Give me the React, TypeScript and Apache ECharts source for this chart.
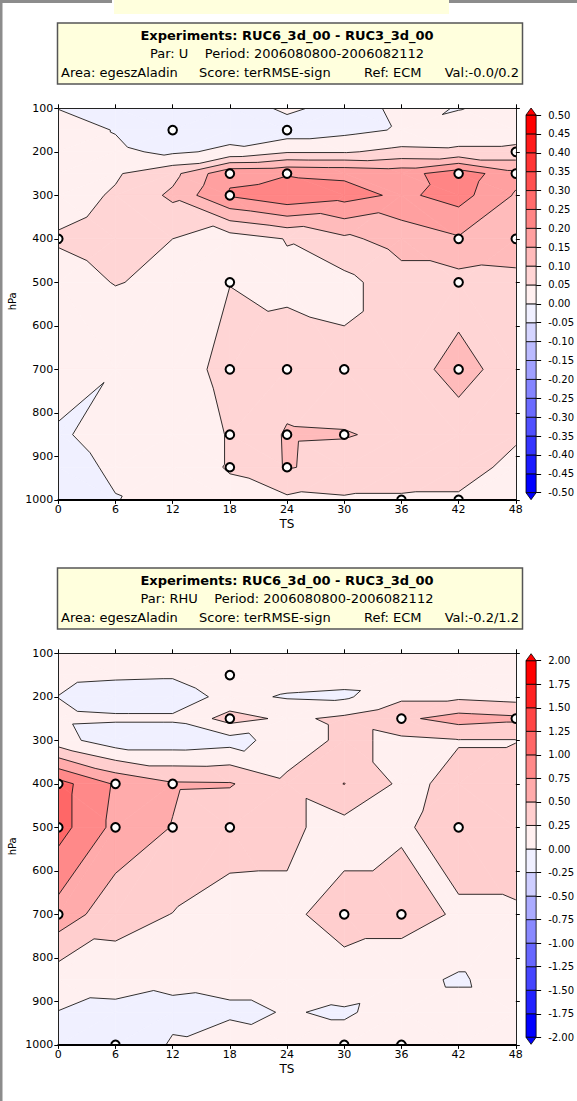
import React, { useEffect, useRef } from "react";
import * as echarts from "echarts";

// Forecast steps (hours) and pressure levels (hPa) of the verification grid
const STEPS = [0, 6, 12, 18, 24, 30, 36, 42, 48];
const LEVELS = [100, 150, 200, 250, 300, 400, 500, 700, 850, 925, 1000];

// RMSE difference, wind U (rows follow LEVELS, columns follow STEPS)
const U_DIFF = [
  [-0.001, -0.02, -0.03, -0.036, 0.012, -0.024, 0.012, -0.002, 0.015],
  [0.02, -0.002, -0.03, -0.02, -0.03, -0.015, 0.005, 0.02, 0.03],
  [0.02, 0.008, -0.008, 0.01, 0.045, 0.045, 0.064, 0.06, 0.06],
  [0.03, 0.045, 0.085, 0.19, 0.195, 0.19, 0.18, 0.23, 0.165],
  [0.03, 0.055, 0.11, 0.205, 0.24, 0.22, 0.19, 0.22, 0.145],
  [0.055, 0.07, 0.05, 0.025, 0.052, 0.09, 0.12, 0.145, 0.13],
  [0.03, 0.052, 0.04, 0.049, 0.04, 0.035, 0.08, 0.08, 0.085],
  [0.04, 0.0025, 0.02, 0.07, 0.075, 0.065, 0.08, 0.115, 0.08],
  [-0.01, 0.03, 0.001, 0.055, 0.105, 0.103, 0.09, 0.08, 0.055],
  [-0.02, 0.008, 0.015, 0.055, 0.104, 0.08, 0.07, 0.065, 0.04],
  [-0.008, -0.002, 0.022, 0.03, 0.04, 0.045, 0.045, 0.045, 0.04],
];

// RMSE difference, relative humidity
const RHU_DIFF = [
  [0.08, 0.1, 0.1, 0.12, 0.1, 0.1, 0.08, 0.1, 0.1],
  [0.05, 0.03, 0.02, 0.15, 0.1, 0.08, 0.1, 0.1, 0.1],
  [-0.003, -0.1, -0.1, 0.06, -0.02, -0.04, 0.2, 0.2, 0.15],
  [0.05, 0.03, 0.03, 0.35, 0.2, 0.3, 0.45, 0.6, 0.55],
  [0.1, -0.15, -0.15, -0.1, 0.12, 0.3, 0.2, 0.24, 0.24],
  [1.1, 0.72, 0.53, 0.52, 0.3, 0.505, 0.2, 0.3, 0.4],
  [1.1, 0.68, 0.49, 0.3, 0.3, 0.15, 0.22, 0.35, 0.4],
  [0.65, 0.34, 0.245, 0.205, 0.2, 0.35, 0.35, 0.22, 0.22],
  [0.1, 0.12, 0.04, 0.1, 0.1, 0.15, 0.08, -0.03, 0.12],
  [-0.005, -0.08, -0.043, -0.06, 0.015, -0.03, 0.1, 0.1, 0.1],
  [-0.1, -0.15, 0.02, 0.2, 0.1, 0.1, 0.27, 0.1, 0.1],
];

// Grid points where the difference is significant: [step, level]
const U_SIG = [
  [12, 150], [24, 150], [48, 200], [18, 250], [24, 250], [42, 250], [48, 250],
  [18, 300], [0, 400], [42, 400], [48, 400], [18, 500], [42, 500],
  [18, 700], [24, 700], [30, 700], [42, 700], [18, 850], [24, 850], [30, 850],
  [18, 925], [24, 925], [36, 1000], [42, 1000],
];
const RHU_SIG = [
  [18, 150], [18, 250], [36, 250], [48, 250], [0, 400], [6, 400], [12, 400],
  [0, 500], [6, 500], [12, 500], [18, 500], [42, 500], [0, 700], [30, 700],
  [36, 700], [6, 1000], [30, 1000], [36, 1000],
];

// Contour levels (colour-bar tick labels)
const U_BOUNDS = [
  -0.5, -0.45, -0.4, -0.35, -0.3, -0.25, -0.2, -0.15, -0.1, -0.05, 0,
  0.05, 0.1, 0.15, 0.2, 0.25, 0.3, 0.35, 0.4, 0.45, 0.5,
];
const RHU_BOUNDS = [
  -2, -1.75, -1.5, -1.25, -1, -0.75, -0.5, -0.25, 0,
  0.25, 0.5, 0.75, 1, 1.25, 1.5, 1.75, 2,
];

const U_COLORS = [
  "rgb(0,0,255)", "rgb(27,27,255)", "rgb(53,53,255)", "rgb(80,80,255)", "rgb(107,107,255)",
  "rgb(133,133,255)", "rgb(160,160,255)", "rgb(187,187,255)", "rgb(213,213,255)", "rgb(240,240,255)",
  "rgb(255,240,240)", "rgb(255,213,213)", "rgb(255,187,187)", "rgb(255,160,160)", "rgb(255,133,133)",
  "rgb(255,107,107)", "rgb(255,80,80)", "rgb(255,53,53)", "rgb(255,27,27)", "rgb(255,0,0)",
];
const RHU_COLORS = [
  "rgb(0,0,255)", "rgb(34,34,255)", "rgb(69,69,255)", "rgb(103,103,255)",
  "rgb(137,137,255)", "rgb(171,171,255)", "rgb(206,206,255)", "rgb(240,240,255)",
  "rgb(255,240,240)", "rgb(255,206,206)", "rgb(255,171,171)", "rgb(255,137,137)",
  "rgb(255,103,103)", "rgb(255,69,69)", "rgb(255,34,34)", "rgb(255,0,0)",
];

const FONT = "DejaVu Sans";

type V = [number, number, number];

// Split each grid cell into two triangles; the diagonal joins the pair of
// corners with the lower mean value (keeps high maxima apart at saddles).
function triangles(z: number[][]): V[][] {
  const tris: V[][] = [];
  for (let i = 0; i < LEVELS.length - 1; i++) {
    for (let j = 0; j < STEPS.length - 1; j++) {
      const a: V = [STEPS[j], LEVELS[i], z[i][j]];
      const b: V = [STEPS[j + 1], LEVELS[i], z[i][j + 1]];
      const c: V = [STEPS[j], LEVELS[i + 1], z[i + 1][j]];
      const d: V = [STEPS[j + 1], LEVELS[i + 1], z[i + 1][j + 1]];
      if (b[2] + c[2] <= a[2] + d[2]) tris.push([a, b, c], [b, d, c]);
      else tris.push([a, b, d], [a, d, c]);
    }
  }
  return tris;
}

function cut(a: V, b: V, lv: number): V {
  const s = (lv - a[2]) / (b[2] - a[2]);
  return [a[0] + s * (b[0] - a[0]), a[1] + s * (b[1] - a[1]), lv];
}

function clip(poly: V[], lv: number, above: boolean): V[] {
  const inside = (q: V) => (above ? q[2] >= lv : q[2] <= lv);
  const out: V[] = [];
  for (let k = 0; k < poly.length; k++) {
    const a = poly[k];
    const b = poly[(k + 1) % poly.length];
    const ia = inside(a);
    const ib = inside(b);
    if (ia) out.push(a);
    if (ia !== ib) out.push(cut(a, b, lv));
  }
  return out;
}

type Poly = { band: number; pts: V[] };

function bandPolygons(z: number[][], bounds: number[]): Poly[] {
  const polys: Poly[] = [];
  const n = bounds.length - 1;
  for (const tri of triangles(z)) {
    const zs = tri.map((q) => q[2]);
    const zmin = Math.min(...zs);
    const zmax = Math.max(...zs);
    for (let k = 0; k < n; k++) {
      const lo = k === 0 ? -Infinity : bounds[k];
      const hi = k === n - 1 ? Infinity : bounds[k + 1];
      if (zmax < lo || zmin > hi) continue;
      let p: V[] = tri;
      if (isFinite(lo)) p = clip(p, lo, true);
      if (p.length >= 3 && isFinite(hi)) p = clip(p, hi, false);
      if (p.length >= 3) polys.push({ band: k, pts: p });
    }
  }
  return polys;
}

function contourSegments(z: number[][], bounds: number[]): number[][] {
  const segs: number[][] = [];
  for (const tri of triangles(z)) {
    for (const lv of bounds) {
      const pts: V[] = [];
      for (let k = 0; k < 3; k++) {
        const a = tri[k];
        const b = tri[(k + 1) % 3];
        if ((a[2] >= lv) !== (b[2] >= lv)) pts.push(cut(a, b, lv));
      }
      if (pts.length === 2) segs.push([pts[0][0], pts[0][1], pts[1][0], pts[1][1]]);
    }
  }
  return segs;
}

function fmt(v: number) {
  if (Math.abs(v) < 1e-9) return "0.00";
  return v.toFixed(2);
}

type PanelDef = {
  z: number[][];
  sig: number[][];
  bounds: number[];
  colors: string[];
  top: number;
  cbTop: number;
  cbHeight: number;
  par: string;
  val: string;
};

const PANELS: PanelDef[] = [
  { z: U_DIFF, sig: U_SIG, bounds: U_BOUNDS, colors: U_COLORS, top: 108.3, cbTop: 115, cbHeight: 377.7, par: "Par: U", val: "Val:-0.0/0.2" },
  { z: RHU_DIFF, sig: RHU_SIG, bounds: RHU_BOUNDS, colors: RHU_COLORS, top: 653.3, cbTop: 660.7, cbHeight: 376.6, par: "Par: RHU", val: "Val:-0.2/1.2" },
];

const PLOT_LEFT = 58.3;
const PLOT_W = 457.5;
const PLOT_H = 391.6;
const CB_LEFT = 526;
const CB_W = 13.3;

function buildOption() {
  const grid: any[] = [];
  const xAxis: any[] = [];
  const yAxis: any[] = [];
  const series: any[] = [];
  const graphic: any[] = [];

  // page frame pieces
  graphic.push(
    { type: "rect", shape: { x: 0, y: 0, width: 2.5, height: 1101 }, style: { fill: "#8c8c8c" }, silent: true },
    { type: "rect", shape: { x: 0, y: 0, width: 112, height: 3 }, style: { fill: "#8c8c8c" }, silent: true },
    { type: "rect", shape: { x: 449, y: 0, width: 128, height: 3 }, style: { fill: "#8c8c8c" }, silent: true },
    { type: "rect", shape: { x: 114, y: 0, width: 335, height: 14 }, style: { fill: "#ffffdd" }, silent: true }
  );

  PANELS.forEach((pn, idx) => {
    const g = idx * 2;
    const ax = idx * 3;
    grid.push({ left: PLOT_LEFT, top: pn.top, width: PLOT_W, height: PLOT_H, containLabel: false });
    grid.push({ left: CB_LEFT, top: pn.cbTop, width: CB_W, height: pn.cbHeight, containLabel: false });

    const tickStyle = { lineStyle: { color: "#000", width: 1 } };
    const lbl = { color: "#000", fontSize: 11, fontFamily: FONT, formatter: (v: number) => String(v) };
    xAxis.push(
      {
        type: "value", gridIndex: g, min: 0, max: 48, interval: 6, position: "bottom", z: 10,
        axisLine: { onZero: false, lineStyle: { color: "#000", width: 2 } },
        axisTick: { show: true, length: 4, ...tickStyle },
        axisLabel: { ...lbl, margin: 4 },
        splitLine: { show: false },
      },
      {
        type: "value", gridIndex: g, min: 0, max: 48, interval: 6, position: "top", z: 10,
        axisLine: { onZero: false, lineStyle: { color: "#222", width: 1 } },
        axisTick: { show: true, length: 4, ...tickStyle },
        axisLabel: { show: false },
        splitLine: { show: false },
      },
      {
        type: "value", gridIndex: g + 1, min: 0, max: 1, show: false,
      }
    );
    yAxis.push(
      {
        type: "value", gridIndex: g, min: 100, max: 1000, interval: 100, inverse: true, position: "left", z: 10,
        axisLine: { onZero: false, lineStyle: { color: "#222", width: 1 } },
        axisTick: { show: true, length: 4, ...tickStyle },
        axisLabel: { ...lbl, margin: 5 },
        splitLine: { show: false },
      },
      {
        type: "value", gridIndex: g, min: 100, max: 1000, interval: 100, inverse: true, position: "right", z: 10,
        axisLine: { onZero: false, lineStyle: { color: "#222", width: 1 } },
        axisTick: { show: true, length: 4, ...tickStyle },
        axisLabel: { show: false },
        splitLine: { show: false },
      },
      {
        type: "value", gridIndex: g + 1, position: "right",
        min: pn.bounds[0], max: pn.bounds[pn.bounds.length - 1],
        interval: pn.bounds[1] - pn.bounds[0],
        axisLine: { show: false, onZero: false },
        axisTick: { show: true, length: 5, lineStyle: { color: "#000", width: 1 } },
        axisLabel: { color: "#000", fontSize: 10, fontFamily: FONT, margin: 12, formatter: (v: number) => fmt(v) },
        splitLine: { show: false },
      }
    );

    const polys = bandPolygons(pn.z, pn.bounds);
    const segs = contourSegments(pn.z, pn.bounds);
    const colors = pn.colors;

    series.push({
      type: "custom", xAxisIndex: ax, yAxisIndex: ax, clip: true, silent: true, z: 2,
      data: polys.map((p, i) => [p.pts[0][0], p.pts[0][1], i]),
      encode: { x: 0, y: 1 },
      renderItem: (_p: any, api: any) => {
        const pl = polys[api.value(2)];
        const c = colors[pl.band];
        return {
          type: "polygon",
          shape: { points: pl.pts.map((q) => api.coord([q[0], q[1]])) },
          style: { fill: c, stroke: c, lineWidth: 0.7 },
        };
      },
    });
    series.push({
      type: "custom", xAxisIndex: ax, yAxisIndex: ax, clip: true, silent: true, z: 3,
      data: segs,
      encode: { x: [0, 2], y: [1, 3] },
      renderItem: (_p: any, api: any) => {
        const p1 = api.coord([api.value(0), api.value(1)]);
        const p2 = api.coord([api.value(2), api.value(3)]);
        return {
          type: "line",
          shape: { x1: p1[0], y1: p1[1], x2: p2[0], y2: p2[1] },
          style: { stroke: "#1a1a1a", lineWidth: 0.9 },
        };
      },
    });
    series.push({
      type: "custom", xAxisIndex: ax, yAxisIndex: ax, clip: true, silent: true, z: 4,
      data: pn.sig,
      encode: { x: 0, y: 1 },
      renderItem: (_p: any, api: any) => {
        const c = api.coord([api.value(0), api.value(1)]);
        return {
          type: "circle",
          shape: { cx: c[0], cy: c[1], r: 4.3 },
          style: { fill: "#fff", stroke: "#000", lineWidth: 2 },
        };
      },
    });

    // colour bar
    const bands = pn.bounds.slice(0, -1).map((lo, k) => [lo, pn.bounds[k + 1], k]);
    series.push({
      type: "custom", xAxisIndex: ax + 2, yAxisIndex: ax + 2, clip: false, silent: true, z: 2,
      data: bands,
      encode: { y: [0, 1] },
      renderItem: (_p: any, api: any) => {
        const a = api.coord([0, api.value(1)]);
        const b = api.coord([1, api.value(0)]);
        return {
          type: "rect",
          shape: { x: a[0], y: a[1], width: b[0] - a[0], height: b[1] - a[1] },
          style: { fill: colors[api.value(2)], stroke: "#000", lineWidth: 0.8 },
        };
      },
    });
    const ends = [
      [pn.bounds[pn.bounds.length - 1], -1, colors.length - 1],
      [pn.bounds[0], 1, 0],
    ];
    series.push({
      type: "custom", xAxisIndex: ax + 2, yAxisIndex: ax + 2, clip: false, silent: true, z: 2,
      data: ends,
      encode: { y: 0 },
      renderItem: (_p: any, api: any) => {
        const a = api.coord([0, api.value(0)]);
        const b = api.coord([1, api.value(0)]);
        const dir = api.value(1);
        return {
          type: "polygon",
          shape: { points: [a, b, [(a[0] + b[0]) / 2, a[1] + dir * 7]] },
          style: { fill: colors[api.value(2)], stroke: "#000", lineWidth: 0.8 },
        };
      },
    });

    // title box
    const bt = pn.top - 85.3;
    const txt = (x: number, y: number, text: string, align: string, font = `13px "${FONT}"`) => ({
      type: "text", x, y, silent: true,
      style: { text, fill: "#000", font, align, verticalAlign: "middle" },
    });
    graphic.push(
      { type: "rect", shape: { x: 57.5, y: bt, width: 465, height: 61 }, style: { fill: "#ffffdd", stroke: "#555", lineWidth: 1.5 }, silent: true },
      txt(287, bt + 12.5, "Experiments: RUC6_3d_00 - RUC3_3d_00", "center", `bold 13px "${FONT}"`),
      txt(287, bt + 30.5, `${pn.par}    Period: 2006080800-2006082112`, "center"),
      txt(61, bt + 49, "Area: egeszAladin", "left"),
      txt(199, bt + 49, "Score: terRMSE-sign", "left"),
      txt(364, bt + 49, "Ref: ECM", "left"),
      txt(519, bt + 49, pn.val, "right"),
      txt(287, pn.top + PLOT_H + 24, "TS", "center", `12px "${FONT}"`),
      {
        type: "text", x: 12, y: pn.top + 193, rotation: Math.PI / 2, silent: true,
        style: { text: "hPa", fill: "#000", font: `10px "${FONT}"`, align: "center", verticalAlign: "middle" },
      }
    );
  });

  return { animation: false, backgroundColor: "#fff", grid, xAxis, yAxis, series, graphic };
}

export default function App() {
  const ref = useRef<HTMLDivElement>(null);
  useEffect(() => {
    if (!ref.current) return;
    const chart = echarts.init(ref.current, undefined, { renderer: "svg" });
    chart.setOption(buildOption() as any);
    return () => chart.dispose();
  }, []);
  return <div ref={ref} style={{ position: "absolute", left: 0, top: 0, width: 577, height: 1101 }} />;
}
